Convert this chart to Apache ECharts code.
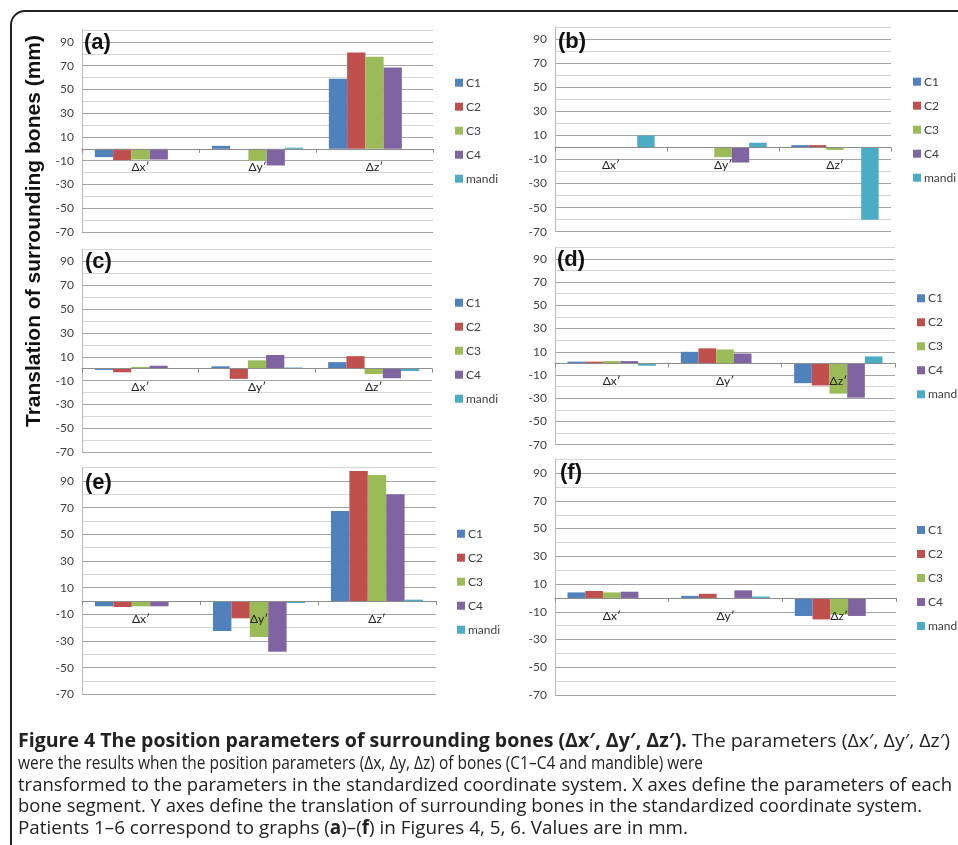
<!DOCTYPE html>
<html>
<head>
<meta charset="utf-8">
<script src="https://cdn.jsdelivr.net/npm/echarts@6/dist/echarts.min.js"></script>
<style>
  html, body { margin: 0; padding: 0; background: #ffffff; }
  #chart { width: 958px; height: 845px; }
</style>
</head>
<body>
<div id="chart"></div>
<script>
// Translation of surrounding bones (mm), patients 1–6
const categories = ['Δx′', 'Δy′', 'Δz′'];
const boneNames = ['C1', 'C2', 'C3', 'C4', 'mandi'];
const yTickLabels = [-70, -50, -30, -10, 10, 30, 50, 70, 90];

// rows follow boneNames, columns follow categories
const patient1 = [[-7, 2.5, 59], [-9.5, 0, 81], [-9, -10, 77.5], [-9, -14, 68.5], [0, 1, 0]];
const patient2 = [[0, 0, 2], [0, 0, 2], [0, -8, -2], [0, -12.5, 0], [10, 4, -60]];
const patient3 = [[-1, 2, 5.5], [-3, -8.5, 10.5], [1.5, 7, -4.5], [2.5, 11.5, -8], [0, 1, -2]];
const patient4 = [[1.5, 10, -17], [1.5, 13, -19], [2, 12, -26], [2, 8.5, -29.5], [-2, 0, 6]];
const patient5 = [[-4, -22.5, 67.5], [-4.5, -13, 97.5], [-4, -27, 94.5], [-4, -38, 80], [0, -1.5, 1]];
const patient6 = [[4, 1.5, -13], [5, 3, -15.5], [4, 0, -12], [4.5, 5.5, -13], [0, 1, 0]];

const boneColors = ['#4F81BD', '#C0504D', '#9BBB59', '#8064A2', '#4BACC6'];
const uiFont = 'Lato, "Open Sans", sans-serif';
const Y_MIN = -70, Y_MAX = 100;

const panels = [
  { tag: '(a)', data: patient1, grid: { left: 82, top: 30, width: 351, height: 202 }, legend: { left: 455, top: 75.7 }, tagPos: [84, 42.5] },
  { tag: '(b)', data: patient2, grid: { left: 555, top: 27.3, width: 336, height: 204.4 }, legend: { left: 913, top: 74.7 }, tagPos: [558, 41.5] },
  { tag: '(c)', data: patient3, grid: { left: 82, top: 249.3, width: 350, height: 203 }, legend: { left: 455, top: 295.7 }, tagPos: [85, 261.7] },
  { tag: '(d)', data: patient4, grid: { left: 555, top: 247.3, width: 340, height: 197.4 }, legend: { left: 917, top: 291.3 }, tagPos: [557, 260.3] },
  { tag: '(e)', data: patient5, grid: { left: 82, top: 467.7, width: 354, height: 226.6 }, legend: { left: 457, top: 526.7 }, tagPos: [85, 483] },
  { tag: '(f)', data: patient6, grid: { left: 555, top: 459.3, width: 341, height: 235.7 }, legend: { left: 917, top: 523 }, tagPos: [560, 473.3] }
];

const option = {
  animation: false,
  backgroundColor: '#ffffff',
  grid: [], xAxis: [], yAxis: [], series: [], legend: [], graphic: []
};

panels.forEach((p, k) => {
  option.grid.push(Object.assign({ containLabel: false }, p.grid));
  // category axis sits on the zero line: lift it from the grid bottom by the -70..0 span
  const zeroLift = p.grid.height * (0 - Y_MIN) / (Y_MAX - Y_MIN);
  option.xAxis.push({
    type: 'category', gridIndex: k, data: categories, z: 5,
    position: 'bottom', offset: -zeroLift,
    axisLine: { show: true, onZero: false, lineStyle: { color: '#8c8c8c', width: 1 } },
    axisTick: { show: true, alignWithLabel: false, length: 4, lineStyle: { color: '#8c8c8c' } },
    axisLabel: { color: '#222', fontSize: 12, fontFamily: uiFont, margin: 12 },
    splitLine: { show: false }
  });
  option.yAxis.push({
    type: 'value', gridIndex: k, min: Y_MIN, max: Y_MAX, interval: 10,
    axisLine: { show: true, lineStyle: { color: '#b8b8b8' } },
    axisTick: { show: false },
    axisLabel: {
      color: '#404040', fontSize: 12, fontFamily: uiFont, margin: 8,
      formatter: v => (yTickLabels.indexOf(v) >= 0 ? String(v) : '')
    },
    splitLine: { show: true, lineStyle: { color: ['#a3a3a3', '#d6d6d6'], width: 1 } }
  });
  boneNames.forEach((name, i) => {
    option.series.push({
      type: 'bar', name: name, xAxisIndex: k, yAxisIndex: k,
      data: p.data[i], barGap: '0%', barCategoryGap: '22%',
      itemStyle: { color: boneColors[i] }
    });
  });
  option.legend.push({
    data: boneNames, orient: 'vertical', left: p.legend.left, top: p.legend.top,
    icon: 'rect', itemWidth: 8, itemHeight: 8, itemGap: 10, padding: 0,
    selectedMode: false,
    textStyle: { color: '#404040', fontSize: 12, lineHeight: 14, fontFamily: uiFont, padding: [0, 0, 0, -2] }
  });
  option.graphic.push({
    type: 'text', x: p.tagPos[0], y: p.tagPos[1], z: 10,
    style: { text: p.tag, font: 'bold 22px "Liberation Sans", Arial, sans-serif', fill: '#111', verticalAlign: 'middle' }
  });
});

// outer frame
option.graphic.push({
  type: 'rect', z: 20, silent: true,
  shape: { x: 11, y: 11, width: 1100, height: 1000, r: 14 },
  style: { fill: 'none', stroke: '#222', lineWidth: 2 }
});

// shared y-axis title
option.graphic.push({
  type: 'text', x: 34, y: 231, rotation: Math.PI / 2, z: 10,
  style: {
    text: 'Translation of surrounding bones (mm)',
    font: 'bold 21px "Liberation Sans", Arial, sans-serif', fill: '#111',
    align: 'center', verticalAlign: 'middle'
  }
});

// figure caption, each line condensed to its own right edge
const captionLines = [
  '{b|Figure 4 The position parameters of surrounding bones (Δx′, Δy′, Δz′).} The parameters (Δx′, Δy′, Δz′)',
  'were the results when the position parameters (Δx, Δy, Δz) of bones (C1–C4 and mandible) were',
  'transformed to the parameters in the standardized coordinate system. X axes define the parameters of each',
  'bone segment. Y axes define the translation of surrounding bones in the standardized coordinate system.',
  'Patients 1–6 correspond to graphs ({b|a})–({b|f}) in Figures 4, 5, 6. Values are in mm.'
];
const captionY = [741.7, 763.4, 785.1, 806.8, 828.5];
const captionRight = [950, 703, 952, 922, 688];
const captionLeft = 18;
const captionSize = 19;
const captionFamily = '"Open Sans", sans-serif';

const measureCtx = document.createElement('canvas').getContext('2d');
function richLineWidth(line) {
  let w = 0;
  line.split(/(\{b\|[^}]*\})/).forEach(seg => {
    if (!seg) return;
    const m = seg.match(/^\{b\|([^}]*)\}$/);
    measureCtx.font = (m ? 'bold ' : '') + captionSize + 'px ' + captionFamily;
    w += measureCtx.measureText(m ? m[1] : seg).width;
  });
  return w;
}

captionLines.forEach((line, i) => {
  const sx = (captionRight[i] - captionLeft) / richLineWidth(line);
  option.graphic.push({
    type: 'text', x: captionLeft, y: captionY[i], scaleX: sx, z: 10,
    style: {
      text: line, fill: '#222', verticalAlign: 'middle',
      font: captionSize + 'px ' + captionFamily,
      rich: { b: { fontWeight: 'bold', fontSize: captionSize, fontFamily: captionFamily, fill: '#222' } }
    }
  });
});

const chart = echarts.init(document.getElementById('chart'), null, { renderer: 'canvas' });
chart.setOption(option);
</script>
</body>
</html>
